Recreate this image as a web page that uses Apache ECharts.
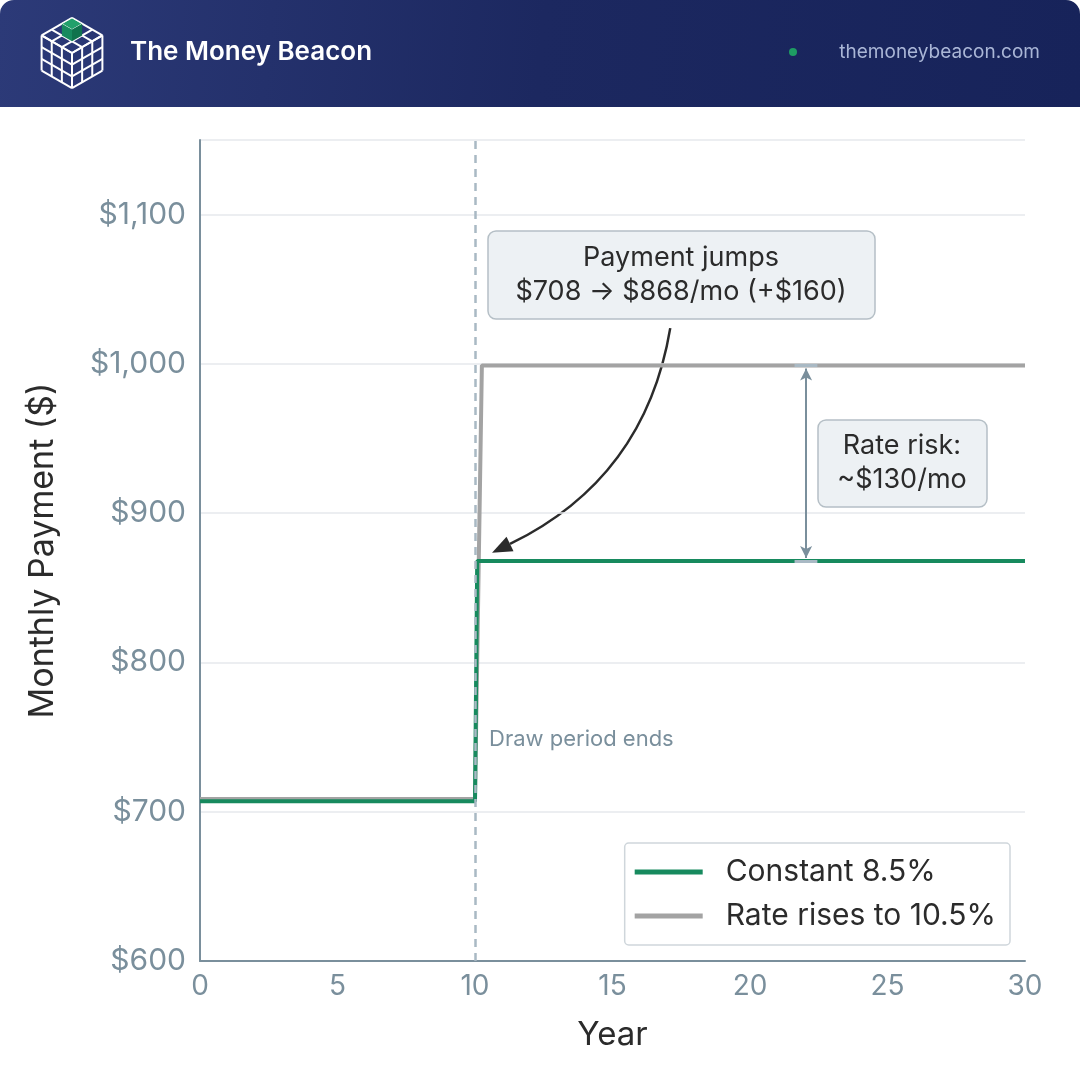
<!DOCTYPE html>
<html><head><meta charset="utf-8">
<script src="https://cdn.jsdelivr.net/npm/echarts@6/dist/echarts.min.js"></script>
<style>html,body{margin:0;padding:0;background:#fff}#c{width:1080px;height:1080px}</style>
</head><body><div id="c"></div>
<script>
const constantX = [0, 10, 10.08, 30];
const constantY = [707, 707, 868, 868];
const risesX = [0, 10, 10.25, 30];
const risesY = [708.5, 708.5, 999, 999];
const yTicks = [600, 700, 800, 900, 1000, 1100];
const xTicks = [0, 5, 10, 15, 20, 25, 30];
const drawEnd = 10;

const chart = echarts.init(document.getElementById('c'));
const fmt = v => '$' + v.toLocaleString('en-US');
const F = 'Inter, "Noto Sans", sans-serif';

const s = 11.7, cx = 72, cy = 53;
const c30 = Math.cos(Math.PI/6)*s, s30 = s/2;
const P = (a,b,h) => [cx + (a-b)*c30, cy + (a+b)*s30 - h*s];
function cubeLines() {
  const g = [];
  const L = (p, q) => g.push({type:'line', shape:{x1:p[0],y1:p[1],x2:q[0],y2:q[1]}, style:{stroke:'#fff',lineWidth:2}});
  for (let i=0;i<=3;i++){
    L(P(i,0,3),P(i,3,3)); L(P(0,i,3),P(3,i,3));
    L(P(3,i,0),P(3,i,3)); L(P(3,0,i),P(3,3,i));
    L(P(i,3,0),P(i,3,3)); L(P(0,3,i),P(3,3,i));
  }
  return g;
}

const baseGraphic = [
  {type:'rect', shape:{x:0,y:0,width:1080,height:107,r:[14,14,0,0]}, style:{fill:new echarts.graphic.LinearGradient(0,0,1,1,[{offset:0,color:'#2c3a78'},{offset:0.5,color:'#1c2860'},{offset:1,color:'#17235a'}])}},
  {type:'group', children:cubeLines()},
  {type:'polygon', shape:{points:[P(0,0,3),P(1,0,3),P(1,1,3),P(0,1,3)]}, style:{fill:'#22a06b', stroke:'#fff', lineWidth:1}},
  {type:'polygon', shape:{points:[P(0,1,3),P(1,1,3),P(1,1,2),P(0,1,2)]}, style:{fill:'#178a5e'}},
  {type:'polygon', shape:{points:[P(1,0,3),P(1,1,3),P(1,1,2),P(1,0,2)]}, style:{fill:'#10734d'}},
  {type:'text', x:130, y:52, style:{text:'The Money Beacon', fill:'#fff', font:'600 26px '+F, verticalAlign:'middle'}},
  {type:'circle', shape:{cx:793, cy:52, r:4}, style:{fill:'#1e9c63'}},
  {type:'text', x:1040, y:52, style:{text:'themoneybeacon.com', fill:'#aab6d6', font:'19px '+F, align:'right', verticalAlign:'middle'}},
  {type:'text', x:489, y:739, style:{text:'Draw period ends', fill:'#7a8f9c', font:'22px '+F, verticalAlign:'middle'}},
  {type:'rect', shape:{x:488,y:231,width:387,height:88,r:8}, style:{fill:'#edf1f4', stroke:'#b5bfc6', lineWidth:1.5}},
  {type:'text', x:681, y:275, style:{text:'Payment jumps\n$708 → $868/mo (+$160)', fill:'#2b2b2b', font:'27px '+F, align:'center', verticalAlign:'middle', lineHeight:34}},
  {type:'rect', shape:{x:818,y:420,width:169,height:87,r:8}, style:{fill:'#edf1f4', stroke:'#b5bfc6', lineWidth:1.5}},
  {type:'text', x:902, y:463, style:{text:'Rate risk:\n~$130/mo', fill:'#2b2b2b', font:'27px '+F, align:'center', verticalAlign:'middle', lineHeight:34}}
];

chart.setOption({
  animation:false,
  backgroundColor:'#fff',
  textStyle:{fontFamily:F},
  grid:{left:200, right:55, top:140, bottom:119},
  xAxis:{type:'value', min:0, max:30, interval:5, name:'Year', nameLocation:'middle', nameGap:58,
    nameTextStyle:{fontSize:33, color:'#2b2b2b'},
    axisLine:{lineStyle:{color:'#7a8f9c', width:2}}, axisTick:{show:false},
    axisLabel:{fontSize:28, color:'#7a8f9c', margin:12}, splitLine:{show:false}},
  yAxis:{type:'value', min:600, max:1150, interval:100, name:'Monthly Payment ($)', nameLocation:'middle', nameGap:140,
    nameTextStyle:{fontSize:34, color:'#2b2b2b'},
    axisLine:{show:true, lineStyle:{color:'#7a8f9c', width:2}}, axisTick:{show:false},
    axisLabel:{fontSize:30, color:'#7a8f9c', margin:14, formatter:v=> yTicks.includes(v)?fmt(v):''},
    splitLine:{lineStyle:{color:'#e6e9ec', width:1.5}}},
  legend:{right:70, bottom:135, orient:'vertical', itemWidth:68, itemHeight:5, itemGap:14,
    padding:[14,14,14,10], borderColor:'#cfd6db', borderWidth:1.5, borderRadius:4, backgroundColor:'#fff',
    textStyle:{fontSize:30, color:'#2b2b2b', padding:[0,0,0,18]},
    data:[{name:'Constant 8.5%', icon:'rect'},{name:'Rate rises to 10.5%', icon:'rect'}]},
  series:[
    {name:'Rate rises to 10.5%', type:'line', symbol:'none', color:'#a3a3a3', lineStyle:{width:4, color:'#a3a3a3'},
     data: risesX.map((x,i)=>[x,risesY[i]]),
     markLine:{silent:true, symbol:'none', label:{show:false}, lineStyle:{type:[8,6], color:'#a9b9c4', width:2.5}, data:[{xAxis:drawEnd}]}},
    {name:'Constant 8.5%', type:'line', symbol:'none', color:'#178a5e', lineStyle:{width:4, color:'#178a5e'},
     data: constantX.map((x,i)=>[x,constantY[i]]),
     markLine:{silent:true, label:{show:false}, data:[
       [{coord:[21.62, 999], symbol:'none', lineStyle:{color:'#a9b9c4', width:3, type:'solid'}},{coord:[22.45,999], symbol:'none'}],
       [{coord:[21.62, 868], symbol:'none', lineStyle:{color:'#a9b9c4', width:3, type:'solid'}},{coord:[22.45,868], symbol:'none'}],
       [{coord:[22.04, 997], symbol:'arrow', symbolSize:[9,12], lineStyle:{color:'#7a8f9c', width:2, type:'solid'}},{coord:[22.04,870], symbol:'arrow', symbolSize:[9,12]}]
     ]}}
  ],
  graphic: baseGraphic
});

// curved annotation arrow, anchored through the axes
const a = chart.convertToPixel({gridIndex:0}, [17.1, 1024]);
const b = chart.convertToPixel({gridIndex:0}, [10.62, 873.5]);
const c1 = [a[0]-25, a[1]+150];
const dx = b[0]-c1[0], dy = b[1]-c1[1], len = Math.hypot(dx,dy), ux = dx/len, uy = dy/len;
const hl = 20, hw = 8;
const base = [b[0]-ux*hl, b[1]-uy*hl];
chart.setOption({graphic: baseGraphic.concat([
  {type:'bezierCurve', shape:{x1:a[0],y1:a[1],cpx1:c1[0],cpy1:c1[1],x2:base[0],y2:base[1]}, style:{stroke:'#2b2b2b', lineWidth:2.5, fill:null}},
  {type:'polygon', shape:{points:[b,[base[0]-uy*hw, base[1]+ux*hw],[base[0]+uy*hw, base[1]-ux*hw]]}, style:{fill:'#2b2b2b'}}
])});
</script></body></html>
